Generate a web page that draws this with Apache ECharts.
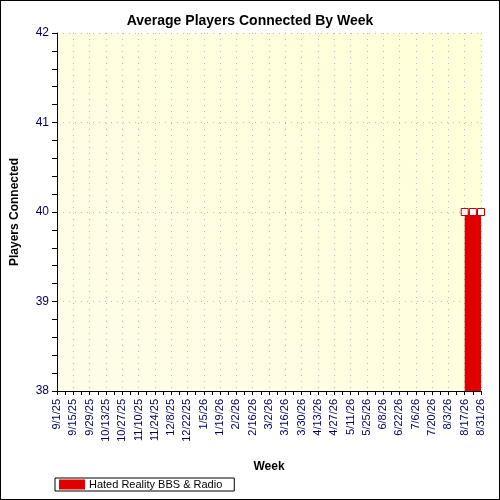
<!DOCTYPE html>
<html><head><meta charset="utf-8">
<script src="https://cdn.jsdelivr.net/npm/echarts@6/dist/echarts.min.js"></script>
<style>html,body{margin:0;padding:0;background:#fff}#c{width:498px;height:498px;border:1px solid #000}</style>
</head><body><div id="c"></div>
<script>
const weeks = ["9/1/25","9/8/25","9/15/25","9/22/25","9/29/25","10/6/25","10/13/25","10/20/25","10/27/25","11/3/25","11/10/25","11/17/25","11/24/25","12/1/25","12/8/25","12/15/25","12/22/25","12/29/25","1/5/26","1/12/26","1/19/26","1/26/26","2/2/26","2/9/26","2/16/26","2/23/26","3/2/26","3/9/26","3/16/26","3/23/26","3/30/26","4/6/26","4/13/26","4/20/26","4/27/26","5/4/26","5/11/26","5/18/26","5/25/26","6/1/26","6/8/26","6/15/26","6/22/26","6/29/26","7/6/26","7/13/26","7/20/26","7/27/26","8/3/26","8/10/26","8/17/26","8/24/26","8/31/26"];
const seriesName = "Hated Reality BBS & Radio";
const players = weeks.map((w,i)=> i>=50 ? 40 : null);
const yTicks = [38,39,40,41,42];
const chart = echarts.init(document.getElementById('c'));
const font = 'Liberation Sans, Arial, sans-serif';
chart.setOption({
  animation:false,
  title:{text:'Average Players Connected By Week',left:'center',top:8,textStyle:{fontFamily:font,fontSize:14,fontWeight:'bold',color:'#000'}},
  grid:{left:56,right:18,top:32,bottom:108,show:true,backgroundColor:new echarts.graphic.LinearGradient(0,1,1,0,[{offset:0,color:'#fffde8'},{offset:1,color:'#ffffd8'}]),borderWidth:0},
  legend:{left:54,bottom:8,itemWidth:24,itemHeight:8,borderColor:'#000',borderWidth:1,padding:[1,12,1,4],itemGap:4,
    data:[{name:seriesName,icon:'rect',itemStyle:{color:'#e00000',borderColor:'#e00000'}}],textStyle:{fontFamily:font,fontSize:11,color:'#000'}},
  xAxis:{type:'category',data:weeks,boundaryGap:false,
    name:'Week',nameLocation:'middle',nameGap:70,nameTextStyle:{fontFamily:font,fontSize:12,fontWeight:'bold',color:'#000'},
    axisLine:{lineStyle:{color:'#000'}},axisTick:{interval:0,length:4,inside:false,lineStyle:{color:'#000'}},
    axisLabel:{interval:1,rotate:90,fontFamily:font,fontSize:11,color:'#000060',margin:8},
    splitLine:{show:true,interval:1,lineStyle:{type:[1,5],color:'#bbb'}}},
  yAxis:{type:'value',min:yTicks[0],max:yTicks[yTicks.length-1],interval:1,
    name:'Players Connected',nameLocation:'middle',nameGap:36,nameTextStyle:{fontFamily:font,fontSize:12,fontWeight:'bold',color:'#000'},
    axisLine:{show:true,lineStyle:{color:'#000'}},axisTick:{show:true,length:5,lineStyle:{color:'#000'}},
    minorTick:{show:true,splitNumber:5,length:5,lineStyle:{color:'#000'}},
    axisLabel:{fontFamily:font,fontSize:12,color:'#000060',margin:8},
    splitLine:{show:true,lineStyle:{type:[1,5],color:'#bbb'}},
    minorSplitLine:{show:false}},
  series:[{name:seriesName,type:'line',data:players,color:'#e00000',
    lineStyle:{color:'#e00000',width:1},areaStyle:{color:'#e00000',opacity:1,origin:'start'},
    symbol:'rect',symbolSize:7,showSymbol:true,showAllSymbol:true,itemStyle:{color:'#fff',borderColor:'#c00000',borderWidth:1}}]
});
</script></body></html>
